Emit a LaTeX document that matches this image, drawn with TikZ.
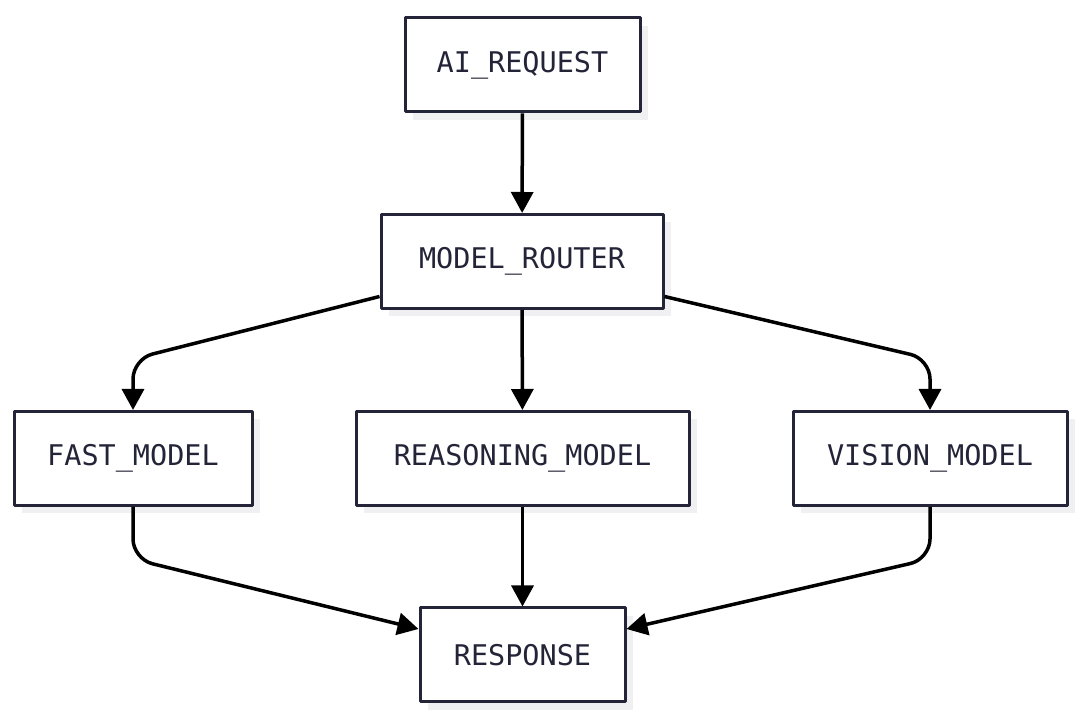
\documentclass[tikz,border=0pt]{standalone}
\usepackage{fontspec}
\setmonofont{DejaVu Sans Mono}
\usetikzlibrary{arrows.meta,shadows}
\definecolor{ink}{RGB}{36,36,56}
\definecolor{shade}{RGB}{240,240,242}
\begin{document}
\begin{tikzpicture}[x=1pt,y=1pt,line join=round,
  box/.style={draw=ink,line width=3pt,fill=white,text=ink,font=\ttfamily\fontsize{28.5}{32}\selectfont,
    inner sep=0pt,minimum height=94pt,
    drop shadow={shadow xshift=8pt,shadow yshift=-8pt,fill=shade,opacity=1}},
  link/.style={draw=black,line width=3.5pt,rounded corners=20pt,-{Triangle[width=22pt,length=21pt]}}]
\useasboundingbox (0,0) rectangle (1084,717);
% nodes
\node[box,minimum width=235pt] (req) at (522.5,652) {AI\_REQUEST};
\node[box,minimum width=282pt] (router) at (522,455.5) {MODEL\_ROUTER};
\node[box,minimum width=238pt] (fast) at (133,258.5) {FAST\_MODEL};
\node[box,minimum width=333pt] (reason) at (522.5,258.5) {REASONING\_MODEL};
\node[box,minimum width=274pt] (vision) at (930,258.5) {VISION\_MODEL};
\node[box,minimum width=205pt] (resp) at (522.5,62) {RESPONSE};
% connectors
\draw[link] (req) -- (router);
\draw[link] (router) -- (reason);
\draw[link] ([yshift=-35pt]router.west) -- (133,358) -- (fast.north);
\draw[link] ([yshift=-35pt]router.east) -- (930,358) -- (vision.north);
\draw[link] (reason) -- (resp);
\draw[link] (fast.south) -- (133,158) -- ([yshift=26pt]resp.west);
\draw[link] (vision.south) -- (930,158) -- ([yshift=26pt]resp.east);
\end{tikzpicture}
\end{document}
